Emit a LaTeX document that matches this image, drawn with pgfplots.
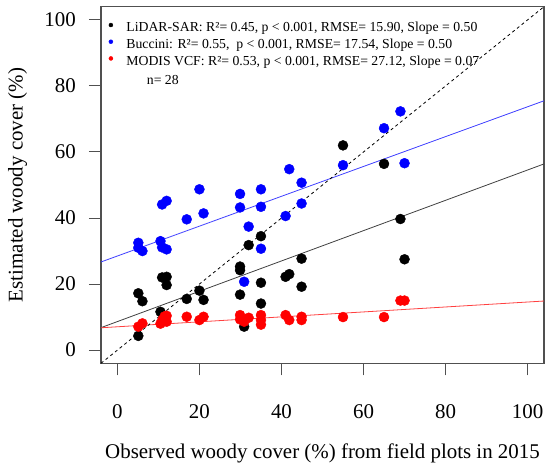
\documentclass[border=0pt]{standalone}
\usepackage{pgfplots}
\pgfplotsset{compat=1.18}
\usepackage{fontspec}
\setmainfont{Liberation Serif}
\definecolor{framegray}{HTML}{505050}
\definecolor{lidar}{HTML}{000000}
\definecolor{bucc}{HTML}{0000FF}
\definecolor{modis}{HTML}{FF0000}
\begin{document}
\begin{tikzpicture}
\path[use as bounding box] (-101bp,-103.7bp) rectangle (449bp,363.3bp);
\begin{axis}[
  scale only axis, width=443bp, height=356.6bp,
  xmin=-4, xmax=104, ymin=-4, ymax=104,
  xtick={0,20,...,100}, ytick={0,20,...,100},
  axis line style={draw=framegray, line width=1.2bp},
  tick style={draw=framegray, line width=1bp},
  major tick length=12bp, tick align=outside, tick pos=left,
  /pgf/number format/assume math mode=true,
  ticklabel style={font=\fontsize{21}{25}\selectfont},
  xticklabel style={anchor=base, inner sep=0pt, yshift=-43bp},
  yticklabel style={anchor=east, inner sep=0pt, xshift=-13bp},
  xlabel={Observed woody cover (\%) from field plots in 2015},
  ylabel={Estimated woody cover (\%)},
  label style={font=\fontsize{21}{25}\selectfont},
  xlabel style={at={(axis description cs:0.5,-0.2664)}, anchor=base, inner sep=0pt},
  ylabel style={at={(axis description cs:-0.2099,0.5)}, anchor=north, inner sep=0pt},
  legend style={at={(axis description cs:0.01738,0.9563)}, anchor=north west,
    draw=none, fill=none, inner sep=0pt, outer sep=0pt,
    font=\fontsize{13.8}{16.7}\selectfont, row sep=4.2bp, column sep=13.3bp,
    nodes={inner sep=0pt, text height=9.5bp, text depth=3bp}},
  legend cell align=left,
]
\addplot[only marks, mark=*, mark size=5bp, color=lidar,
  legend image code/.code={\fill[lidar] (0bp,3.5bp) circle (2bp);}]
  coordinates {
  (5.1,17.2) (6.1,14.8) (5.1,4.3) (10.9,22.0) (12.0,22.2) (12.0,19.7)
  (10.5,11.6) (16.9,15.5) (20.0,18.0) (21.0,15.2) (29.9,25.3) (29.9,24.2)
  (29.9,16.8) (32.0,31.8) (35.0,34.5) (35.0,20.4) (35.0,14.1) (30.9,7.1)
  (41.0,22.2) (41.9,23.0) (44.9,27.7) (44.9,19.2) (55.0,62.0) (65.0,56.4)
  (69.0,39.7) (70.0,27.5)};
\addlegendentry{LiDAR-SAR: R²= 0.45, p < 0.001, RMSE= 15.90, Slope = 0.50}
\addplot[only marks, mark=*, mark size=5bp, color=bucc,
  legend image code/.code={\fill[bucc] (0bp,3.5bp) circle (2bp);}]
  coordinates {
  (5.1,32.5) (5.1,31.0) (6.1,30.0) (10.9,44.1) (12.0,45.2) (10.5,33.0)
  (10.9,31.1) (12.0,30.5) (16.9,39.6) (20.0,48.7) (21.0,41.4) (29.9,47.3)
  (29.9,43.2) (32.0,37.4) (30.9,20.7) (35.0,48.7) (35.0,43.4) (35.0,30.7)
  (41.0,40.6) (41.9,54.8) (44.9,50.7) (44.9,44.4) (55.0,56.0) (65.0,67.2)
  (69.0,72.3) (70.0,56.6)};
\addlegendentry{Buccini: R²= 0.55, \ p < 0.001, RMSE= 17.54, Slope = 0.50}
\addplot[only marks, mark=*, mark size=5bp, color=modis,
  legend image code/.code={\fill[modis] (0bp,3.5bp) circle (2bp);}]
  coordinates {
  (5.1,7.1) (6.1,8.1) (10.5,8.0) (11.0,9.2) (11.5,10.2) (12.0,10.4)
  (12.0,8.6) (16.9,10.1) (20.0,9.1) (21.0,10.1) (29.9,10.6) (29.9,9.3)
  (30.9,8.6) (32.0,9.8) (35.0,10.6) (35.0,9.1) (35.0,7.7) (41.0,10.6)
  (41.9,9.1) (44.9,10.1) (44.9,9.1) (55.0,10.0) (65.0,10.0) (69.0,15.0)
  (70.0,15.0)};
\addlegendentry{MODIS VCF: R²= 0.53, p < 0.001, RMSE= 27.12, Slope = 0.07}
% fitted lines and 1:1 line
\addplot[forget plot, color=black!75, line width=0.8bp] coordinates {(-4,6.80) (104,56.38)};
\addplot[forget plot, color=blue!75!white, line width=0.8bp] coordinates {(-4,26.69) (104,75.5)};
\addplot[forget plot, color=red!75!white, line width=0.8bp] coordinates {(-4,6.76) (104,14.86)};
\addplot[forget plot, color=black, line width=0.8bp, dash pattern=on 3bp off 3bp] coordinates {(-4,-4) (104,104)};
\node[anchor=base west, inner sep=0pt, font=\fontsize{13.8}{16.7}\selectfont]
  at (axis description cs:0.1032,0.7832) {n= 28};
\end{axis}
\end{tikzpicture}
\end{document}
